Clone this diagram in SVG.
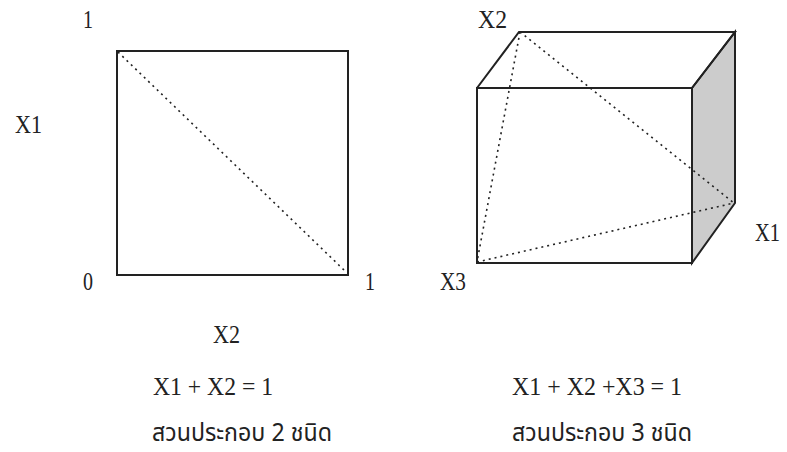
<svg xmlns="http://www.w3.org/2000/svg" width="787" height="452" viewBox="0 0 787 452">
<style>
.t{font-family:"Liberation Serif","DejaVu Serif",serif;font-size:25px;fill:#222}
.th{font-family:"Noto Sans Thai","Noto Sans Thai Looped","Loma","Garuda","DejaVu Sans",sans-serif;font-size:25px;fill:#222}
.edge{stroke:#222;stroke-width:2;fill:none}
.dot{stroke:#222;stroke-width:1.6;fill:none;stroke-dasharray:2 4}
</style>
<rect width="787" height="452" fill="#fff"/>
<g id="square">
<rect class="edge" x="117" y="51" width="231" height="224"/>
</g>
<g id="box">
<polygon points="692,88 735,32 735,203 692,263" fill="#cccccc" stroke="#222" stroke-width="2"/>
<polyline class="edge" points="477,88 519,32 735,32 692,88"/>
<rect class="edge" x="477" y="88" width="215" height="175"/>
</g>
<g id="connectors">
<line class="dot" x1="118" y1="52" x2="345" y2="271"/>
<line class="dot" x1="520" y1="32" x2="734" y2="203"/>
<line class="dot" x1="520" y1="32" x2="477" y2="262"/>
<line class="dot" x1="477" y1="262" x2="734" y2="203"/>
</g>
<g id="labels">
<text class="t" x="83" y="28" textLength="10" lengthAdjust="spacingAndGlyphs">1</text>
<text class="t" x="15" y="133" textLength="27" lengthAdjust="spacingAndGlyphs">X1</text>
<text class="t" x="83" y="290" textLength="10" lengthAdjust="spacingAndGlyphs">0</text>
<text class="t" x="365" y="290" textLength="10" lengthAdjust="spacingAndGlyphs">1</text>
<text class="t" x="213" y="343" textLength="27" lengthAdjust="spacingAndGlyphs">X2</text>
<text class="t" x="153" y="395" textLength="120" lengthAdjust="spacingAndGlyphs">X1 + X2 = 1</text>
<text class="th" x="152" y="441" textLength="180" lengthAdjust="spacingAndGlyphs">สวนประกอบ 2 ชนิด</text>
<text class="t" x="478" y="28" textLength="29" lengthAdjust="spacingAndGlyphs">X2</text>
<text class="t" x="440" y="290" textLength="26" lengthAdjust="spacingAndGlyphs">X3</text>
<text class="t" x="755" y="241" textLength="25" lengthAdjust="spacingAndGlyphs">X1</text>
<text class="t" x="512" y="395" textLength="170" lengthAdjust="spacingAndGlyphs">X1 + X2 +X3 = 1</text>
<text class="th" x="512" y="441" textLength="180" lengthAdjust="spacingAndGlyphs">สวนประกอบ 3 ชนิด</text>
</g>
</svg>
